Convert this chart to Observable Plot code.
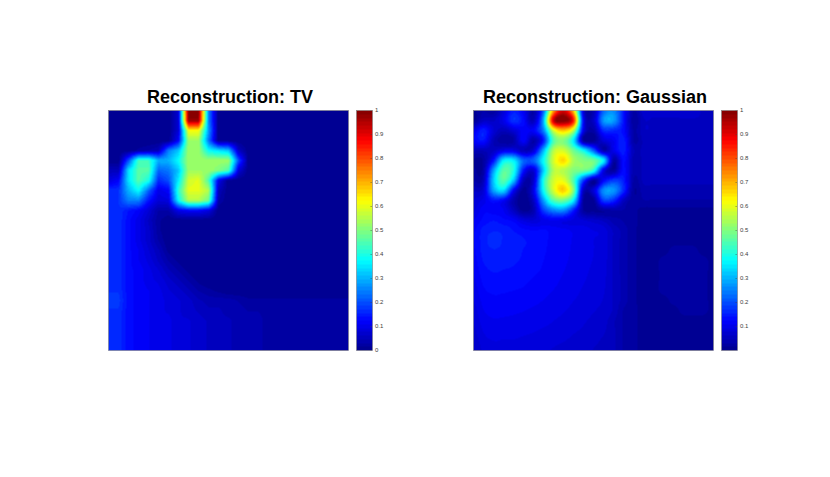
<!DOCTYPE html>
<html>
<head>
<meta charset="utf-8">
<script src="https://cdn.jsdelivr.net/npm/d3@7"></script>
<script src="https://cdn.jsdelivr.net/npm/@observablehq/plot@0.6"></script>
<style>
html,body{margin:0;padding:0;background:#fff;width:830px;height:477px;overflow:hidden}
#root{position:relative;width:830px;height:477px}
#root>div{position:absolute}
svg{overflow:visible;display:block}
</style>
</head>
<body>
<div id="root"></div>
<script>
const titleTV = "Reconstruction: TV";
const titleGauss = "Reconstruction: Gaussian";
const ticksTV = [0,0.1,0.2,0.3,0.4,0.5,0.6,0.7,0.8,0.9,1];
const ticksGauss = [0.1,0.2,0.3,0.4,0.5,0.6,0.7,0.8,0.9,1];
const jetStops = [0,0.125,0.375,0.625,0.875,1];
const jetColors = ["#00008c","#0000ff","#00ffff","#ffff00","#ff0000","#800000"];

// values in percent of the colour range, rows from top to bottom
const tvRows = [
[0,0,0,0,0,0,0,8,100,100,25,0,0,0,0,0,0,0,0,0,0,0,0,0,0],
[0,0,0,0,0,0,0,8,98,98,25,0,0,0,0,0,0,0,0,0,0,0,0,0,0],
[0,0,0,0,0,0,0,8,62,62,28,0,0,0,0,0,0,0,0,0,0,0,0,0,0],
[0,0,0,0,0,0,0,12,53,53,24,0,0,0,0,0,0,0,0,0,0,0,0,0,0],
[0,0,0,2,3,5,25,32,53,53,38,35,32,6,0,0,0,0,0,0,0,0,0,0,0],
[0,0,20,44,44,30,30,38,53,53,53,53,53,20,0,0,0,0,0,0,0,0,0,0,0],
[5,5,35,46,46,22,24,32,53,53,53,50,45,8,0,0,0,0,0,0,0,0,0,0,0],
[9,12,35,46,40,16,20,36,58,60,45,10,0,0,0,0,0,0,0,0,0,0,0,0,0],
[17,17,30,38,22,10,12,42,60,60,55,5,0,0,0,0,0,0,0,0,0,0,0,0,0],
[17,17,25,25,14,8,9,38,55,55,48,3,0,0,0,0,0,0,0,0,0,0,0,0,0],
[17,17,14,12,8,3,3,10,12,12,9,0,0,0,0,0,0,0,0,0,0,0,0,0,0],
[17,17,13,10,6,2,0,0,0,0,0,0,0,0,0,0,0,0,0,0,0,0,0,0,0],
[17,17,13,10,7,2,0,0,0,0,0,0,0,0,0,0,0,0,0,0,0,0,0,0,0],
[17,17,13,10,7,3,0,0,0,0,0,0,0,0,0,0,0,0,0,0,0,0,0,0,0],
[17,17,13,11,8,5,1,0,0,0,0,0,0,0,0,0,0,0,0,0,0,0,0,0,0],
[17,17,13,11,9,6,3,1,0,0,0,0,0,0,0,0,0,0,0,0,0,0,0,0,0],
[17,17,13,12,10,8,5,3,1,0,0,0,0,0,0,0,0,0,0,0,0,0,0,0,0],
[17,17,13,12,10,9,7,5,3,1,0,0,0,0,0,0,0,0,0,0,0,0,0,0,0],
[17,17,13,12,11,10,8,7,5,3,2,1,0,0,0,0,0,0,0,0,0,0,0,0,0],
[18,18,13,12,11,10,9,8,7,5,4,4,4,3,2,2,2,2,2,2,2,2,2,2,2],
[17,17,13,12,11,10,9,8,7,6,5,5,4,4,3,3,2,2,2,2,2,2,2,2,2],
[17,17,13,12,11,10,10,8,8,7,6,5,5,4,4,4,2,2,2,2,2,2,2,2,2],
[17,17,13,12,11,10,10,8,8,7,6,5,5,4,4,4,2,2,2,2,2,2,2,2,2],
[17,17,13,12,11,10,10,8,8,7,6,5,5,4,4,4,2,2,2,2,2,2,2,2,2],
[17,17,13,12,11,10,10,8,8,7,6,5,5,4,4,4,2,2,2,2,2,2,2,2,2]
];
const gaussRows = [
[1,3,2,8,15,11,3,22,72,92,68,8,4,22,26,14,3,7,7,7,7,7,7,6,6],
[1,6,6,10,17,13,5,30,92,100,85,12,6,27,28,14,2,6,6,6,6,6,6,6,6],
[10,15,8,5,8,12,12,25,58,68,55,10,3,16,16,13,3,6,6,6,6,5,5,5,5],
[12,14,5,2,3,12,3,15,45,50,36,2,1,8,11,15,3,5,5,5,5,5,5,5,5],
[5,5,6,10,10,5,8,30,55,58,48,38,22,4,10,15,5,5,5,5,5,5,5,5,5],
[1,2,14,36,36,22,22,38,58,66,54,50,48,36,3,13,4,5,5,5,5,5,5,5,5],
[2,3,28,46,40,14,8,33,55,55,50,48,40,10,2,13,4,5,5,5,5,5,5,5,5],
[3,5,32,46,32,5,7,40,58,60,45,18,2,12,18,15,3,5,5,5,5,5,5,5,5],
[6,8,28,34,12,1,10,38,58,67,50,6,8,26,27,16,2,4,4,4,4,4,4,4,4],
[8,10,14,12,4,0,6,28,45,48,36,2,1,18,16,6,2,3,3,3,3,3,3,3,3],
[9,12,12,11,6,1,4,18,25,26,15,2,1,2,3,3,2,1,1,1,1,1,1,1,1],
[11,13,14,13,12,9,8,10,11,10,9,8,7,6,4,3,2,1,1,1,1,1,1,1,1],
[12.2,14.7,15.5,15.2,14,13,12.5,12.7,12,11.4,10.7,10,9.4,8.7,6,4,2,1,1,1,1,1,1,1,1],
[12.3,15,16.2,15.5,14.8,14.2,13.5,12.8,12.1,11.4,10.8,10.1,9.4,8.7,6,4,2,1,1,1,1,1,1,1,1],
[12.2,14.7,15.5,15.2,14.7,14,13.4,12.7,12,11.4,10.7,10,9.4,8.7,6,4,2,1,1,1,2,2,2,1,1],
[11.8,14.2,14.8,14.7,14.3,13.8,13.1,12.5,11.9,11.2,10.6,9.9,9.3,8.6,6,4,2,1,1,2,2,2,2,2,1],
[11.3,13.5,14.2,14,13.8,13.3,12.8,12.3,11.6,11,10.4,9.7,9.1,8.4,6,4,2,1,1,2,2,2,2,2,1],
[10.6,12.9,13.5,13.4,13.1,12.8,12.3,11.8,11.3,10.7,10.1,9.5,8.9,8.2,6,4,2,1,1,2,2,2,2,2,1],
[10,12.2,12.8,12.7,12.5,12.3,11.8,11.4,10.9,10.4,9.8,9.2,8.6,8,6,4,2,1,1,2,2,2,2,2,1],
[9.4,11.5,12.1,12,11.9,11.6,11.3,10.9,10.4,9.9,9.4,8.9,8.2,7.7,6,4,2,1,1,1,2,2,2,2,1],
[8.7,10.9,11.4,11.4,11.2,11,10.7,10.4,9.9,9.5,9,8.4,7.9,7.4,6,3,2,1,1,1,1,2,2,2,1],
[8.1,10.2,10.8,10.7,10.6,10.4,10.1,9.8,9.4,9,8.5,8,7.5,7,5,3,2,1,1,1,1,1,1,1,1],
[7.4,9.5,10.1,10,9.9,9.7,9.5,9.2,8.9,8.4,8,7.6,7,6.5,5,3,2,1,1,1,1,1,1,1,1],
[6.8,8.8,9.4,9.3,9.3,9.1,8.9,8.6,8.2,7.9,7.5,7,6.6,6,5,3,2,1,1,1,1,1,1,1,1],
[6.1,8.2,8.7,8.7,8.6,8.4,8.2,8,7.7,7.4,7,6.6,6.2,5.7,5,3,2,1,1,1,1,1,1,1,1]
];

const FONT = "'Liberation Sans', Arial, sans-serif";
const levels = 64;
const jet = d3.scaleLinear().domain(jetStops).range(jetColors).interpolate(d3.interpolateRgb);
const levelIndex = d3.range(levels);
const colorScale = {
  type: "threshold",
  domain: levelIndex.slice(1).map(i => i / levels),
  range: levelIndex.map(i => jet((i + 0.5) / levels))
};
const root = document.getElementById("root");

function place(el, left, top) {
  const d = document.createElement("div");
  d.style.left = left + "px";
  d.style.top = top + "px";
  d.appendChild(el);
  root.appendChild(d);
}

// Read a grid of percents at fractional node position (x, y).
function node(rows, i, j) {
  const n = rows.length - 1;
  return rows[Math.max(0, Math.min(n, j))][Math.max(0, Math.min(n, i))];
}
function bilinear(rows, x, y) {
  const i = Math.floor(x), j = Math.floor(y), u = x - i, v = y - j;
  return ((1 - v) * ((1 - u) * node(rows, i, j) + u * node(rows, i + 1, j)) +
          v * ((1 - u) * node(rows, i, j + 1) + u * node(rows, i + 1, j + 1))) / 100;
}
function cr(a, b, c, d, t) {
  return b + 0.5 * t * (c - a + t * (2 * a - 5 * b + 4 * c - d + t * (3 * (b - c) + d - a)));
}
function bicubic(rows, x, y) {
  const i = Math.floor(x), j = Math.floor(y), u = x - i, v = y - j;
  const r = [-1, 0, 1, 2].map(dj => cr(node(rows, i - 1, j + dj), node(rows, i, j + dj), node(rows, i + 1, j + dj), node(rows, i + 2, j + dj), u));
  return cr(r[0], r[1], r[2], r[3], v) / 100;
}

function panel(rows, title, left, sample) {
  const n = rows.length - 1;
  place(Plot.plot({
    width: 243, height: 270,
    marginLeft: 0, marginRight: 3, marginBottom: 0, marginTop: 30,
    style: {background: "transparent", fontFamily: FONT},
    x: {domain: [0, n], axis: null},
    y: {domain: [0, n], reverse: true, axis: null},
    color: colorScale,
    marks: [
      Plot.raster({fill: (x, y) => sample(rows, x, y), x1: 0, x2: n, y1: 0, y2: n, pixelSize: 1}),
      Plot.frame({stroke: "#808080", strokeWidth: 0.6}),
      Plot.text([title], {frameAnchor: "top", dy: -20, dx: 1.5, text: d => d, fontSize: 18, fontWeight: "bold", fill: "#000", fontFamily: FONT})
    ]
  }), left, 80);
}

function colorbar(ticks, left) {
  place(Plot.plot({
    width: 36, height: 240,
    marginLeft: 0, marginRight: 20, marginTop: 0, marginBottom: 0,
    style: {background: "transparent", fontFamily: FONT},
    x: {domain: [0, 1], axis: null},
    y: {domain: [0, 1]},
    color: colorScale,
    marks: [
      Plot.raster({fill: (x, y) => y, x1: 0, x2: 1, y1: 0, y2: 1, pixelSize: 1}),
      Plot.ruleY(ticks, {y: d => d, x1: 0.9, x2: 1, stroke: "#404040", strokeWidth: 0.4}),
      Plot.frame({stroke: "#808080", strokeWidth: 0.6}),
      Plot.axisY({anchor: "right", ticks, tickSize: 0, tickPadding: 2.5, fontSize: 6, fill: "#404040", label: null, tickFormat: d => String(d), fontFamily: FONT})
    ]
  }), left, 110);
}

panel(tvRows, titleTV, 108, bilinear);
colorbar(ticksTV, 355.5);
panel(gaussRows, titleGauss, 473, bicubic);
colorbar(ticksGauss, 720.5);
</script>
</body>
</html>
